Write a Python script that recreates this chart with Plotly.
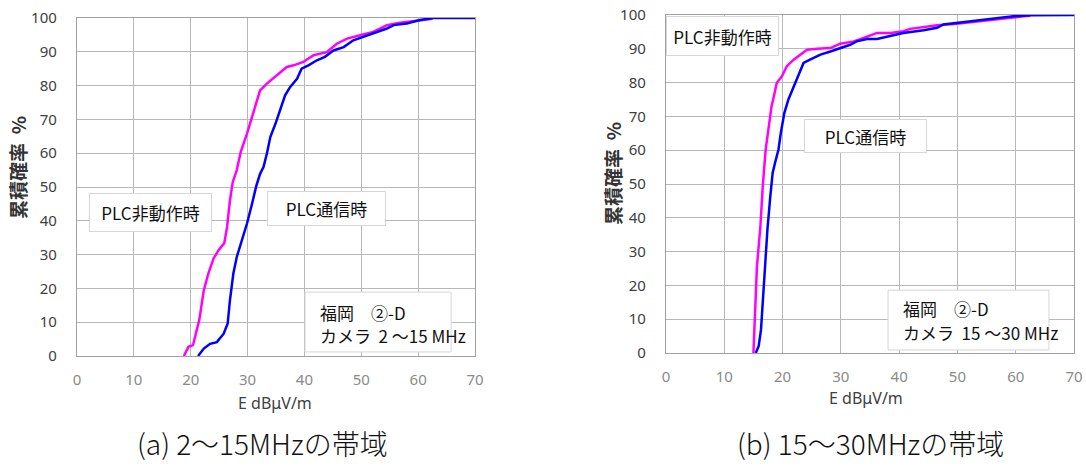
import plotly.graph_objects as go

# ---- data ----
# (a) 2-15 MHz
a_off_x = [18.8, 19.6, 20.4, 21.0, 21.5, 22.3, 23.1, 24.0, 24.9, 25.9, 26.4, 26.9, 27.4, 28.1, 28.8,
           29.9, 31.0, 32.2, 33.4, 35.1, 36.9, 38.1, 39.8, 41.6, 43.9, 45.7, 47.5, 49.8, 52.1, 54.5,
           56.8, 59.8, 62.1, 62.5]
a_off_y = [0, 2.7, 3.2, 7.6, 10.6, 19.4, 24.4, 28.8, 31.3, 33.4, 38.2, 46.0, 51.5, 55.0, 60.4,
           65.8, 71.7, 78.6, 80.6, 83.0, 85.5, 86.0, 87.0, 89.0, 89.9, 92.4, 93.9, 94.9, 95.9, 97.9,
           98.6, 99.2, 99.7, 99.8]
a_on_x = [21.3, 22.3, 23.4, 24.6, 25.8, 26.5, 26.9, 27.5, 28.1, 29.0, 29.9, 30.8, 31.5, 32.2, 32.8,
          33.4, 34.0, 34.9, 35.7, 36.6, 37.5, 38.7, 39.5, 40.7, 42.2, 43.6, 45.1, 46.9, 48.6, 50.4,
          52.7, 54.5, 55.7, 58.0, 60.3, 62.7, 70.0]
a_on_y = [0, 2.2, 3.6, 4.1, 6.6, 9.6, 16.5, 24.4, 29.3, 34.2, 39.2, 45.1, 50.1, 53.9, 55.9,
          59.9, 64.8, 68.7, 72.7, 77.1, 79.6, 82.0, 85.0, 86.0, 87.5, 88.5, 90.4, 91.4, 93.4, 94.4,
          95.9, 96.9, 97.9, 98.4, 99.4, 100, 100]
# (b) 15-30 MHz
b_off_x = [15.0, 15.3, 15.6, 16.2, 16.6, 17.1, 17.6, 18.1, 18.5, 19.0, 19.9, 20.7, 21.9, 23.0, 24.2,
           25.9, 28.2, 29.9, 32.2, 33.9, 36.2, 38.5, 40.7, 41.9, 44.2, 46.5, 49.9, 53.3, 55.6, 58.5,
           61.3, 62.5]
b_off_y = [0, 10.8, 25.6, 37.5, 49.3, 60.2, 66.9, 72.9, 75.9, 79.9, 81.9, 84.8, 86.8, 88.3, 89.7,
           90.0, 90.2, 91.5, 92.2, 93.2, 94.7, 94.7, 95.2, 95.9, 96.4, 97.0, 97.4, 98.1, 98.6, 99.1,
           99.6, 99.8]
b_on_x = [15.4, 15.9, 16.3, 16.6, 17.0, 17.4, 17.9, 18.3, 18.7, 19.3, 19.7, 20.3, 21.0, 21.9, 22.7,
          23.6, 24.7, 26.5, 28.2, 29.9, 31.6, 32.7, 34.5, 36.2, 38.5, 40.7, 44.2, 46.5, 47.6, 49.9,
          54.5, 59.6, 62.5, 70.0]
b_on_y = [0, 2.0, 6.9, 15.8, 25.6, 36.5, 46.4, 53.3, 56.2, 60.2, 65.1, 71.0, 75.0, 78.9, 82.3,
          85.8, 86.8, 88.3, 89.2, 90.2, 91.2, 92.2, 92.9, 92.9, 93.9, 94.7, 95.5, 96.2, 97.2, 97.6,
          98.6, 99.6, 99.9, 100]

x_ticks = [0, 10, 20, 30, 40, 50, 60, 70]
y_ticks = [0, 10, 20, 30, 40, 50, 60, 70, 80, 90, 100]

label_off = "PLC非動作時"
label_on = "PLC通信時"
info_site = "福岡　②-D"
info_a = "カメラ&nbsp;&nbsp;2 ～15 MHz"
info_b = "カメラ&nbsp;&nbsp;15 ～30 MHz"
cap_a = "(a) 2～15MHzの帯域"
cap_b = "(b) 15～30MHzの帯域"
x_title = "E dBμV/m"
y_title = "累積確率&nbsp;&nbsp;%"

MAG = "#ff00ff"
BLU = "#0000ff"
W = 1086
H = 470

fig = go.Figure()
fig.add_trace(go.Scatter(x=a_off_x, y=a_off_y, mode="lines", line=dict(color=MAG, width=2.5),
                         xaxis="x", yaxis="y", showlegend=False))
fig.add_trace(go.Scatter(x=a_on_x, y=a_on_y, mode="lines", line=dict(color=BLU, width=2.5),
                         xaxis="x", yaxis="y", showlegend=False))
fig.add_trace(go.Scatter(x=b_off_x, y=b_off_y, mode="lines", line=dict(color=MAG, width=2.5),
                         xaxis="x2", yaxis="y2", showlegend=False))
fig.add_trace(go.Scatter(x=b_on_x, y=b_on_y, mode="lines", line=dict(color=BLU, width=2.5),
                         xaxis="x2", yaxis="y2", showlegend=False))

tickfont_x = dict(family="Noto Sans, sans-serif", size=15, color="#8a8a8a")
tickfont_y = dict(family="Noto Sans, sans-serif", size=15, color="#404040")
grid = "#b8b8b8"

def xax(domain, anchor):
    return dict(domain=domain, anchor=anchor, range=[0, 70], tickvals=x_ticks,
                showgrid=True, gridcolor=grid, gridwidth=1.3, zeroline=False,
                showline=True, linecolor="#a0a0a0", linewidth=1.3, mirror=True,
                tickfont=tickfont_x, ticks="", ticklabelstandoff=10, fixedrange=True,
                automargin=False)

def yax(domain, anchor):
    return dict(domain=domain, anchor=anchor, range=[0, 100], tickvals=y_ticks,
                showgrid=True, gridcolor=grid, gridwidth=1.3, zeroline=False,
                showline=True, linecolor="#a0a0a0", linewidth=1.3, mirror=True,
                tickfont=tickfont_y, ticks="", ticklabelstandoff=16, fixedrange=True,
                automargin=False)

fig.update_layout(
    width=W, height=H, margin=dict(l=0, r=0, t=0, b=0, autoexpand=False),
    paper_bgcolor="white", plot_bgcolor="white",
    xaxis=xax([77 / W, 475 / W], "y"),
    yaxis=yax([1 - 356 / H, 1 - 18 / H], "x"),
    xaxis2=xax([666 / W, 1074 / W], "y2"),
    yaxis2=yax([1 - 353 / H, 1 - 15 / H], "x2"),
)

# white boxes behind the location / band notes
box_line = dict(color="#d6d6d6", width=1)
fig.add_shape(type="rect", xref="x", yref="y", x0=40.1, x1=65.8, y0=1.2, y1=18.9,
              fillcolor="white", line=box_line, layer="above")
fig.add_shape(type="rect", xref="x2", yref="y2", x0=38.1, x1=65.7, y0=0.9, y1=18.6,
              fillcolor="white", line=box_line, layer="above")

box_font = dict(family="Noto Sans CJK JP, sans-serif", size=17, color="#111111")
box = dict(showarrow=False, bgcolor="white", bordercolor="#d6d6d6", borderwidth=1, borderpad=0,
           font=box_font, xanchor="center", yanchor="middle")
plain = dict(showarrow=False, font=box_font, yanchor="middle", xanchor="left", align="left")

ann = []
# left chart labels
ann.append(dict(text=label_off, xref="x", yref="y", x=12.9, y=42.5, width=121, height=37, **box))
ann.append(dict(text=label_on, xref="x", yref="y", x=43.9, y=43.6, width=117, height=33, **box))
ann.append(dict(text=info_site, xref="x", yref="y", x=42.3, y=13.0, **plain))
ann.append(dict(text=info_a, xref="x", yref="y", x=42.3, y=6.2, **plain))
# right chart labels
ann.append(dict(text=label_off, xref="x2", yref="y2", x=9.7, y=93.8, width=111, height=38, **box))
ann.append(dict(text=label_on, xref="x2", yref="y2", x=34.2, y=64.2, width=121, height=32, **box))
ann.append(dict(text=info_site, xref="x2", yref="y2", x=40.4, y=13.3, **plain))
ann.append(dict(text=info_b, xref="x2", yref="y2", x=40.4, y=6.2, **plain))

c = dict(showarrow=False, xanchor="center", yanchor="middle", xref="paper", yref="paper")
title_font = dict(family="Noto Sans, Noto Sans CJK JP, sans-serif", size=16, color="#404040")
ylab_font = dict(family="Noto Sans CJK JP, sans-serif", size=19, color="#333333")
# axis titles
ann.append(dict(text=x_title, x=275 / W, y=1 - 403 / H, font=title_font, **c))
ann.append(dict(text=x_title, x=866 / W, y=1 - 398 / H, font=title_font, **c))
ann.append(dict(text="<b>" + y_title + "</b>", x=17 / W, y=1 - 168 / H, textangle=-90,
                font=ylab_font, **c))
ann.append(dict(text="<b>" + y_title + "</b>", x=613 / W, y=1 - 173 / H, textangle=-90,
                font=ylab_font, **c))
# captions
cap_font = dict(family="Noto Sans CJK JP, serif", size=28, color="#111111", weight=300)
ann.append(dict(text=cap_a, x=262 / W, y=1 - 443 / H, font=cap_font, **c))
ann.append(dict(text=cap_b, x=870 / W, y=1 - 443 / H, font=cap_font, **c))

fig.update_layout(annotations=ann)
fig.write_html("out.html", config={"displayModeBar": False},
               post_script="document.body.style.margin='0px';")
